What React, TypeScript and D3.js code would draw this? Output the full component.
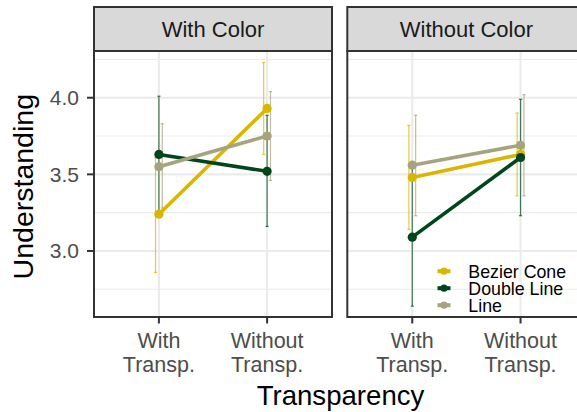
import React from "react";
import * as d3 from "d3";

const facets = ["With Color", "Without Color"];
const categories = ["With Transp.", "Without Transp."];
const categoryLines = [["With", "Transp."], ["Without", "Transp."]];
const seriesNames = ["Bezier Cone", "Double Line", "Line"];
const seriesColors = ["#DAB600", "#00461C", "#A6A47E"];

// values per facet, per series: [With Transp., Without Transp.]
const meanWithColor = [[3.24, 3.93], [3.63, 3.52], [3.55, 3.75]];
const lowWithColor = [[2.86, 3.63], [3.25, 3.16], [3.28, 3.46]];
const highWithColor = [[3.61, 4.23], [4.01, 3.885], [3.83, 4.04]];
const meanWithoutColor = [[3.48, 3.63], [3.09, 3.61], [3.56, 3.69]];
const lowWithoutColor = [[3.14, 3.36], [2.64, 3.23], [3.23, 3.36]];
const highWithoutColor = [[3.82, 3.90], [3.55, 3.99], [3.885, 4.02]];

const yMajor = [3.0, 3.5, 4.0];
const yMinor = [2.75, 3.25, 3.75, 4.25];

const FONT = "'Liberation Sans', Arial, Helvetica, sans-serif";

export default function App() {
  const W = 577, H = 412;
  const panelTop = 51, panelBottom = 317, stripTop = 7;
  const panelX = [[94, 332], [347.3, 585.5]];
  const y = d3.scaleLinear().domain([2.569, 4.305]).range([panelBottom, panelTop]);
  const means = [meanWithColor, meanWithoutColor];
  const lows = [lowWithColor, lowWithoutColor];
  const highs = [highWithColor, highWithoutColor];
  const dodge = [-3.4, 0, 3.4];
  const line = d3.line<[number, number]>().x(d => d[0]).y(d => d[1]);

  return (
    <svg width={W} height={H} style={{ position: "absolute", left: 0, top: 0, background: "#fff" }}
      fontFamily={FONT}>
      <rect x={0} y={0} width={W} height={H} fill="#fff" />
      {facets.map((f, fi) => {
        const [x0, x1] = panelX[fi];
        const x = d3.scalePoint<string>().domain(categories).range([x0, x1]).padding(0.6);
        return (
          <g key={f}>
            {/* panel background */}
            <rect x={x0} y={panelTop} width={x1 - x0} height={panelBottom - panelTop} fill="#fff" />
            {yMinor.map(v => (
              <line key={"mi" + v} x1={x0} x2={x1} y1={y(v)} y2={y(v)} stroke="#EBEBEB" strokeWidth={1.1} />
            ))}
            {yMajor.map(v => (
              <line key={"ma" + v} x1={x0} x2={x1} y1={y(v)} y2={y(v)} stroke="#EBEBEB" strokeWidth={2.1} />
            ))}
            {categories.map(c => (
              <line key={"vx" + c} x1={x(c)!} x2={x(c)!} y1={panelTop} y2={panelBottom} stroke="#EBEBEB" strokeWidth={2.1} />
            ))}
            {/* error bars */}
            {seriesNames.map((s, si) => (
              <g key={"eb" + s} stroke={seriesColors[si]} strokeOpacity={0.72} strokeWidth={1.2}>
                {categories.map((c, ci) => {
                  const cx = x(c)! + dodge[si];
                  const lo = y(lows[fi][si][ci]);
                  const hi = y(highs[fi][si][ci]);
                  return (
                    <g key={c}>
                      <line x1={cx} x2={cx} y1={lo} y2={hi} />
                      <line x1={cx - 1.6} x2={cx + 1.6} y1={lo} y2={lo} />
                      <line x1={cx - 1.6} x2={cx + 1.6} y1={hi} y2={hi} />
                    </g>
                  );
                })}
              </g>
            ))}
            {/* lines */}
            {seriesNames.map((s, si) => (
              <path key={"ln" + s}
                d={line(categories.map((c, ci) => [x(c)!, y(means[fi][si][ci])]))!}
                fill="none" stroke={seriesColors[si]} strokeWidth={3.6} />
            ))}
            {/* points */}
            {seriesNames.map((s, si) => (
              <g key={"pt" + s} fill={seriesColors[si]}>
                {categories.map((c, ci) => (
                  <circle key={c} cx={x(c)!} cy={y(means[fi][si][ci])} r={4.6} />
                ))}
              </g>
            ))}
            {/* panel border */}
            <rect x={x0} y={panelTop} width={x1 - x0} height={panelBottom - panelTop} fill="none" stroke="#333333" strokeWidth={2} />
            {/* strip */}
            <rect x={x0} y={stripTop} width={x1 - x0} height={panelTop - stripTop} fill="#D9D9D9" stroke="#333333" strokeWidth={2} />
            <text x={(x0 + x1) / 2 > 500 ? (x0 + x1) / 2 : (x0 + x1) / 2} y={(stripTop + panelTop) / 2 + 7.8}
              textAnchor="middle" fontSize={22} fill="#1A1A1A">{f}</text>
            {/* x ticks */}
            {categories.map((c, ci) => (
              <g key={"xt" + c}>
                <line x1={x(c)!} x2={x(c)!} y1={panelBottom} y2={panelBottom + 6.5} stroke="#333333" strokeWidth={2} />
                {categoryLines[ci].map((t, li) => (
                  <text key={li} x={x(c)!} y={348 + li * 24} textAnchor="middle" fontSize={21.5} fill="#4D4D4D">{t}</text>
                ))}
              </g>
            ))}
          </g>
        );
      })}
      {/* y axis ticks */}
      {yMajor.map(v => (
        <g key={"yt" + v}>
          <line x1={87} x2={94} y1={y(v)} y2={y(v)} stroke="#333333" strokeWidth={2} />
          <text x={79} y={y(v) + 7.5} textAnchor="end" fontSize={21} fill="#4D4D4D">{v.toFixed(1)}</text>
        </g>
      ))}
      {/* axis titles */}
      <text x={340.5} y={405} textAnchor="middle" fontSize={27.6} fill="#000">Transparency</text>
      <text transform={`translate(33,${186.7}) rotate(-90)`} textAnchor="middle" fontSize={28.5} fill="#000">Understanding</text>
      {/* legend */}
      {seriesNames.map((s, si) => {
        const cy = 271.2 + si * 17;
        return (
          <g key={"lg" + s}>
            <line x1={437.5} x2={450.5} y1={cy} y2={cy} stroke={seriesColors[si]} strokeWidth={4} />
            <circle cx={444} cy={cy} r={3.6} fill={seriesColors[si]} />
            <text x={468.3} y={cy + 6.3} fontSize={17.8} fill="#000">{s}</text>
          </g>
        );
      })}
    </svg>
  );
}
